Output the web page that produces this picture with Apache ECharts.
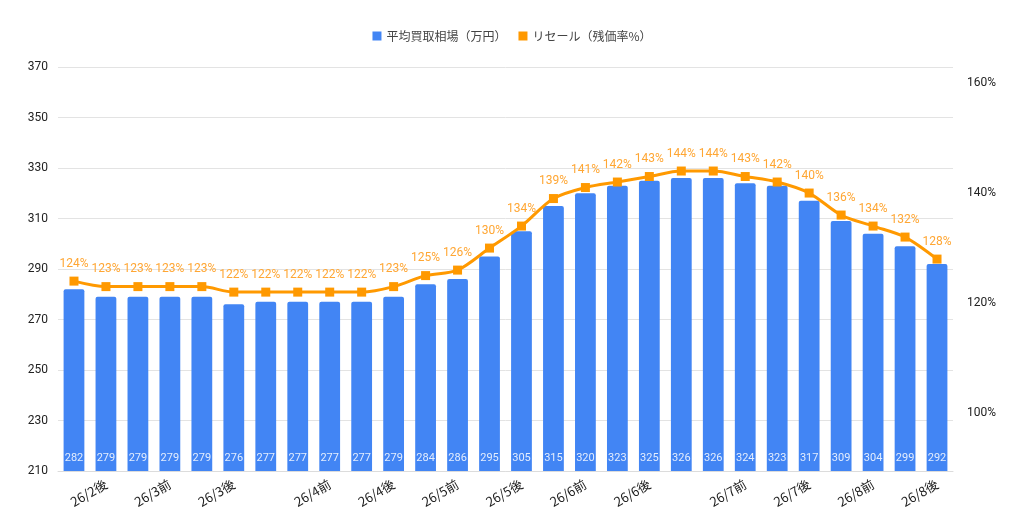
<!DOCTYPE html>
<html>
<head>
<meta charset="utf-8">
<script src="https://cdn.jsdelivr.net/npm/echarts@6/dist/echarts.min.js"></script>
<style>html,body{margin:0;padding:0;background:#fff;}#c{width:1024px;height:528px;}</style>
</head>
<body>
<div id="c"></div>
<script>
const categories = ['26/2前','26/2後','26/3前a','26/3前','26/3後a','26/3後','26/3後b','26/4前a','26/4前','26/4後a','26/4後','26/5前a','26/5前','26/5後a','26/5後','26/6前a','26/6前','26/6後a','26/6後','26/6後b','26/7前a','26/7前','26/7後a','26/7後','26/8前a','26/8前','26/8後a','26/8後'];
const shownLabels = ['', '26/2後', '', '26/3前', '', '26/3後', '', '', '26/4前', '', '26/4後', '', '26/5前', '', '26/5後', '', '26/6前', '', '26/6後', '', '', '26/7前', '', '26/7後', '', '26/8前', '', '26/8後'];
const priceValues = [282,279,279,279,279,276,277,277,277,277,279,284,286,295,305,315,320,323,325,326,326,324,323,317,309,304,299,292];
const resaleValues = [124,123,123,123,123,122,122,122,122,122,123,125,126,130,134,139,141,142,143,144,144,143,142,140,136,134,132,128];
const seriesNames = ['平均買取相場（万円）','リセール（残価率%）'];

const chart = echarts.init(document.getElementById('c'));
chart.setOption({
  animation: false,
  legend: {
    top: 25, left: 'center',
    itemWidth: 9, itemHeight: 9, itemGap: 12,
    icon: 'rect',
    textStyle: { fontSize: 12, color: '#444', fontFamily: 'Noto Sans CJK JP' },
    data: seriesNames
  },
  grid: { left: 58, right: 71, top: 67, bottom: 57 },
  xAxis: {
    type: 'category',
    data: categories,
    axisTick: { show: false },
    axisLine: { lineStyle: { color: '#dcdcdc' } },
    axisLabel: {
      interval: 0, rotate: 30, margin: 12,
      fontSize: 13, color: '#222', fontFamily: 'Noto Sans CJK JP',
      formatter: function (v, i) { return shownLabels[i]; }
    }
  },
  yAxis: [
    {
      type: 'value', min: 210, max: 370, interval: 20,
      axisLine: { show: false }, axisTick: { show: false },
      axisLabel: { fontSize: 12, color: '#222', margin: 10, fontFamily: 'Roboto' },
      splitLine: { lineStyle: { color: '#e3e3e3' } }
    },
    {
      type: 'value', min: 89.5, max: 162.9, splitNumber: 4,
      axisLine: { show: false }, axisTick: { show: false },
      splitLine: { show: false },
      axisLabel: {
        fontSize: 12, color: '#222', margin: 14, fontFamily: 'Roboto',
        showMinLabel: false, showMaxLabel: false,
        formatter: function (v) { return v + '%'; }
      }
    }
  ],
  series: [
    {
      name: seriesNames[0], type: 'bar', yAxisIndex: 0,
      data: priceValues,
      barCategoryGap: '35%',
      itemStyle: { color: '#4285f4', borderRadius: [2, 2, 0, 0] },
      label: {
        show: true, position: 'insideBottom', distance: 7,
        fontSize: 11, color: 'rgba(255,255,255,0.85)', fontFamily: 'Roboto'
      }
    },
    {
      name: seriesNames[1], type: 'line', yAxisIndex: 1,
      data: resaleValues,
      smooth: 0.3,
      symbol: 'rect', symbolSize: 9,
      lineStyle: { color: '#ff9900', width: 3 },
      itemStyle: { color: '#ff9900' },
      label: {
        show: true, position: 'top', distance: 7,
        fontSize: 12, color: '#ffa633', fontFamily: 'Roboto',
        formatter: function (p) { return p.value + '%'; }
      }
    }
  ]
});
</script>
</body>
</html>
